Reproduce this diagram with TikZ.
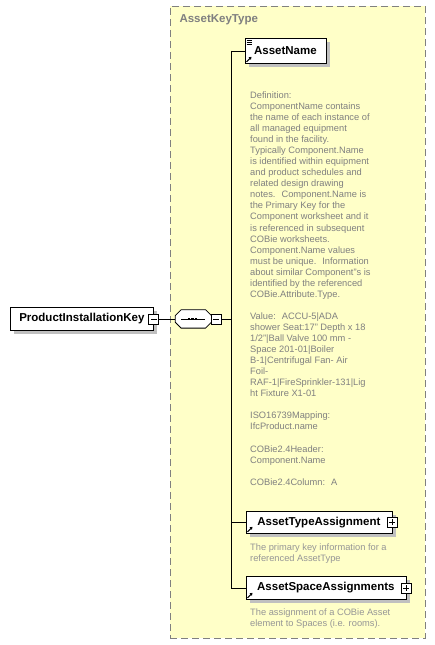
\documentclass[tikz,border=0pt]{standalone}
\usepackage{fontspec}
\setmainfont{Liberation Sans}
\usepackage{tikz}
\usetikzlibrary{positioning,shadows,arrows.meta}
\definecolor{groupfill}{RGB}{255,255,200}
\definecolor{shadowgray}{RGB}{192,192,192}
\definecolor{docgray}{RGB}{128,128,128}
\definecolor{doclight}{RGB}{150,150,150}

\begin{document}
\begin{tikzpicture}[x=1pt,y=-1pt,
    elem/.style={draw, fill=white, line width=0.8pt, inner xsep=0pt, anchor=north west,
        font=\fontsize{11.5}{13}\selectfont\bfseries,
        drop shadow={shadow xshift=4pt, shadow yshift=-4pt, fill=shadowgray, opacity=1}},
    togglebox/.style={draw, fill=white, line width=0.7pt, minimum size=10pt, inner sep=0pt},
    minusbox/.style={togglebox, path picture={
        \draw ([xshift=2pt]path picture bounding box.west) -- ([xshift=-2pt]path picture bounding box.east);}},
    plusbox/.style={togglebox, path picture={
        \draw ([xshift=2pt]path picture bounding box.west) -- ([xshift=-2pt]path picture bounding box.east);
        \draw ([yshift=2pt]path picture bounding box.south) -- ([yshift=-2pt]path picture bounding box.north);}},
    seqbox/.style={minimum width=36pt, minimum height=18pt, inner sep=0pt},
    doc/.style={font=\fontsize{9.3}{11.05}\selectfont, text=docgray, align=left, inner sep=0pt, anchor=north west},
    refarrow/.style={-{Triangle[length=2.5pt,width=3.2pt]}, line width=1pt}
]
    \useasboundingbox (0,0) rectangle (435,645);

    % group of the complex type
    \node[draw=docgray, line width=1pt, dash pattern=on 7pt off 4pt, fill=groupfill,
        minimum width=255pt, minimum height=632pt, anchor=north west] (grp) at (169.5,5.5) {};
    \node[anchor=base west, font=\fontsize{11.5}{13}\selectfont\bfseries, text=docgray] (grptitle) at (176,23) {AssetKeyType};

    % root element and sequence
    \node[elem, minimum width=143pt, minimum height=23pt] (pik) at (10,307) {ProductInstallationKey};
    \node[minusbox] (pikminus) at (pik.east) {};
    \node[seqbox, right=16pt of pikminus] (seq) {};
    \fill[shadowgray, shift={(4,4)}]
        ([xshift=6pt]seq.north west) -- ([xshift=-6pt]seq.north east) -- ([yshift=-6pt]seq.north east)
        -- ([yshift=6pt]seq.south east) -- ([xshift=-6pt]seq.south east) -- ([xshift=6pt]seq.south west)
        -- ([yshift=6pt]seq.south west) -- ([yshift=-6pt]seq.north west) -- cycle;
    \draw[fill=white, line width=0.8pt]
        ([xshift=6pt]seq.north west) -- ([xshift=-6pt]seq.north east) -- ([yshift=-6pt]seq.north east)
        -- ([yshift=6pt]seq.south east) -- ([xshift=-6pt]seq.south east) -- ([xshift=6pt]seq.south west)
        -- ([yshift=6pt]seq.south west) -- ([yshift=-6pt]seq.north west) -- cycle;
    \node[minusbox, anchor=west] (seqminus) at ([xshift=-1pt]seq.east) {};
    \draw[line width=0.7pt] ([xshift=6pt]seq.west) -- ([xshift=-7pt]seq.east);
    \foreach \dx in {-4.5,-1,2.5} {
        \fill ([xshift=\dx pt]seq.center) +(-1.3,-1.3) rectangle +(1.3,1.3);
    }
    \draw[line width=0.8pt] (pikminus) -- (seq);

    % child elements
    \node[elem, minimum width=81pt, minimum height=25pt] (aname) at (244.5,38) {AssetName};
    \node[elem, minimum width=146pt, minimum height=22pt] (atype) at (245.5,511) {AssetTypeAssignment};
    \node[plusbox] (atypeplus) at (atype.east) {};
    \node[elem, minimum width=160pt, minimum height=23pt] (aspace) at (245.5,576) {AssetSpaceAssignments};
    \node[plusbox] (aspaceplus) at (aspace.east) {};

    % icons
    \foreach \dy in {2.5,4.5,6.5} {
        \draw[line width=0.6pt] ([shift={(2,\dy)}]aname.north west) -- ++(5,0);
    }
    \foreach \n in {aname,atype,aspace} {
        \draw[refarrow] ([shift={(2,-2)}]\n.south west) -- ++(5,-5);
    }

    % connectors
    \coordinate (spine) at (231,0);
    \draw[line width=0.8pt] (seqminus.east) -- (seqminus.east -| spine);
    \draw[line width=0.8pt] (spine |- aname.west) -- (spine |- aspace.west);
    \foreach \n in {aname,atype,aspace} {
        \draw[line width=0.8pt] (spine |- \n.west) -- (\n.west);
    }

    % documentation
    \node[doc] (anamedoc) at (250,91.5) {Definition:\\
        ComponentName contains\\
        the name of each instance of\\
        all managed equipment\\
        found in the facility.\\
        Typically Component.Name\\
        is identified within equipment\\
        and product schedules and\\
        related design drawing\\
        notes.~ Component.Name is\\
        the Primary Key for the\\
        Component worksheet and it\\
        is referenced in subsequent\\
        COBie worksheets.\\
        Component.Name values\\
        must be unique.~ Information\\
        about similar Component"s is\\
        identified by the referenced\\
        COBie.Attribute.Type.\\[11.05pt]
        Value:~ ACCU-5|ADA\\
        shower Seat:17" Depth x 18\\
        1/2"|Ball Valve 100 mm -\\
        Space 201-01|Boiler\\
        B-1|Centrifugal Fan- Air\\
        Foil-\\
        RAF-1|FireSprinkler-131|Lig\\
        ht Fixture X1-01\\[11.05pt]
        ISO16739Mapping:\\
        IfcProduct.name\\[11.05pt]
        COBie2.4Header:\\
        Component.Name\\[11.05pt]
        COBie2.4Column:~ A};
    \node[doc, text=doclight] (atypedoc) at (250,543.5) {The primary key information for a\\
        referenced AssetType};
    \node[doc, text=doclight] (aspacedoc) at (250,609) {The assignment of a COBie Asset\\
        element to Spaces (i.e. rooms).};
\end{tikzpicture}
\end{document}
